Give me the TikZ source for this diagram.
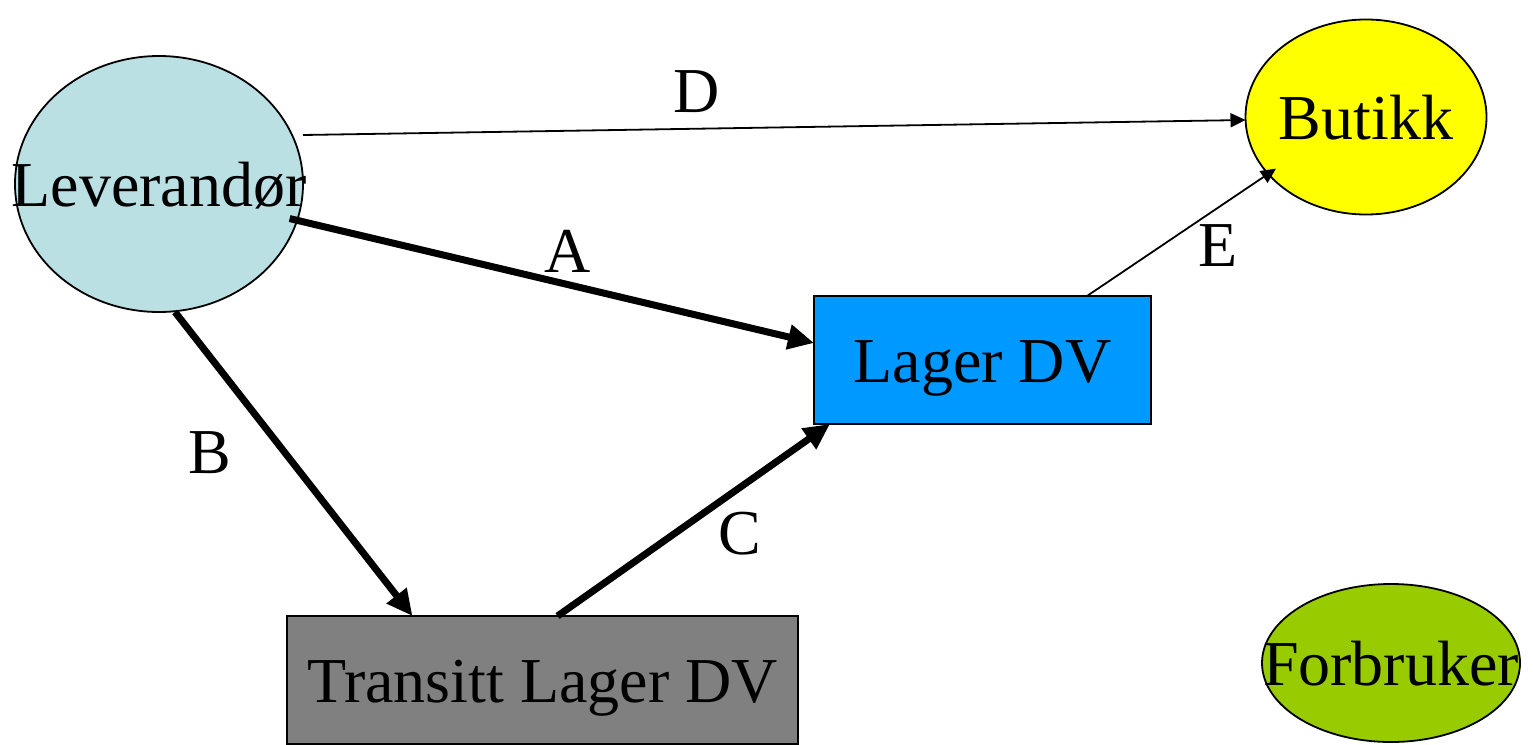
\documentclass[tikz,border=0pt]{standalone}
\usepackage{fontspec}
\setmainfont{Liberation Serif}
\usetikzlibrary{arrows.meta,shapes.geometric}
\definecolor{levblue}{RGB}{187,224,227}
\definecolor{lagerblue}{RGB}{0,153,255}
\definecolor{transgray}{RGB}{128,128,128}
\definecolor{forbgreen}{RGB}{153,204,0}
\definecolor{butyellow}{RGB}{255,255,0}
\tikzset{
  txt/.style={font=\fontsize{64pt}{76pt}\selectfont, text height=57pt, text depth=13pt, inner sep=0pt, outer sep=0pt},
  ell/.style={txt, ellipse, draw, line width=1.8pt},
  boxnode/.style={txt, rectangle, draw, line width=1.8pt},
  thinarrow/.style={line width=1.8pt, -{Triangle[length=15pt,width=14pt]}},
  thickarrow/.style={line width=7pt, -{Triangle[length=26pt,width=24pt]}},
  lbl/.style={txt},
}
\begin{document}
\begin{tikzpicture}[x=1pt,y=-1pt]
\useasboundingbox (0,0) rectangle (1533,744);
% nodes
\node[ell, fill=levblue, minimum width=288pt, minimum height=256pt] (lev) at (159,184) {\makebox[0pt]{Leverand\o r}};
\node[ell, fill=butyellow, minimum width=241pt, minimum height=195pt] (but) at (1366,117) {\makebox[0pt]{Butikk}};
\node[boxnode, fill=lagerblue, minimum width=337pt, minimum height=128pt] (lager) at (982.5,360) {Lager DV};
\node[boxnode, fill=transgray, minimum width=511pt, minimum height=128pt] (trans) at (542.5,680) {Transitt Lager DV};
\node[ell, fill=forbgreen, minimum width=258pt, minimum height=158pt] (forb) at (1391,663) {\makebox[0pt]{Forbruker}};
% connectors
\draw[thinarrow] ([yshift=49pt]lev.east) -- ([yshift=-3pt]but.west);
\draw[thickarrow] ([xshift=-8pt]lev.-14) -- ([yshift=17pt]lager.west);
\draw[thickarrow] ([xshift=16pt]lev.south) -- ([xshift=-130pt]trans.north);
\draw[thickarrow] ([xshift=15pt]trans.north) -- ([xshift=16pt]lager.south west);
\draw[thinarrow] ([xshift=-64pt]lager.north east) -- ([shift={(8pt,5pt)}]but.210);
% labels
\node[lbl] (lD) at (697,90) {D};
\node[lbl] (lA) at (568,250) {A};
\node[lbl] (lB) at (210,451) {B};
\node[lbl] (lC) at (740,532) {C};
\node[lbl] (lE) at (1218,244) {E};
\end{tikzpicture}
\end{document}
